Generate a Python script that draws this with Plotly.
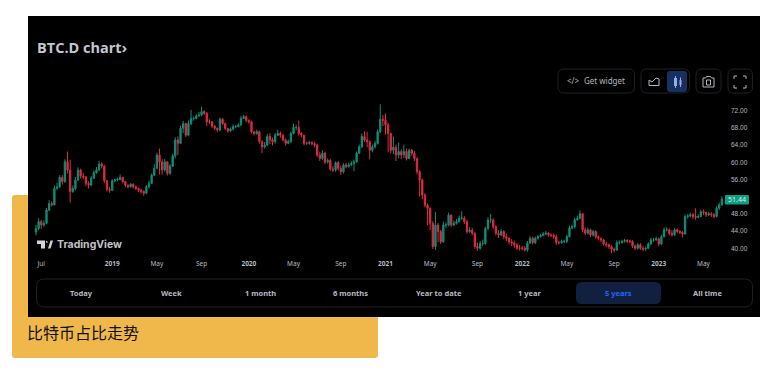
import pandas as pd
import plotly.graph_objects as go

W, H = 782, 374
title_text = "BTC.D chart›"
caption_text = "比特币占比走势"
tabs = ["Today", "Week", "1 month", "6 months", "Year to date", "1 year", "5 years", "All time"]
tick_dates = ["2018-07-02", "2019-01-07", "2019-05-06", "2019-09-02", "2020-01-06", "2020-05-04", "2020-09-07",
              "2021-01-04", "2021-05-03", "2021-09-06", "2022-01-03", "2022-05-02", "2022-09-05", "2023-01-02", "2023-05-01"]
tick_labels = ["Jul", "<b>2019</b>", "May", "Sep", "<b>2020</b>", "May", "Sep", "<b>2021</b>", "May", "Sep",
               "<b>2022</b>", "May", "Sep", "<b>2023</b>", "May"]
price_ticks = [40, 44, 48, 56, 60, 64, 68, 72]
last_price = 51.44

close = [44.6,46.2,45.4,45.8,48.9,50.4,50.1,53.9,54.3,56.5,
 55.5,60.1,58.2,53.2,53.9,55.9,58.2,56.8,56.6,55.1,
 54.7,56.3,57.6,58.2,59.6,59.1,55.7,53.7,53.5,55.7,
 55.9,56.0,56.5,55.5,54.7,54.3,54.9,54.3,53.9,53.5,
 53.2,52.8,54.3,55.1,57.0,58.6,61.7,60.1,58.2,60.1,
 57.4,59.1,61.5,65.2,64.4,67.9,69.0,66.3,69.0,70.2,
 70.2,70.8,71.0,71.8,71.4,69.4,69.4,68.4,67.9,67.5,
 70.0,69.0,67.9,67.3,67.7,68.3,68.3,68.7,70.2,70.6,
 69.7,69.4,67.1,66.7,67.1,64.8,63.6,64.0,66.0,65.2,
 64.8,66.3,66.7,66.3,65.2,64.4,64.8,66.7,68.1,68.1,
 66.7,66.3,64.4,64.4,64.6,64.4,64.0,61.7,60.9,62.1,
 60.1,60.4,58.4,58.2,59.9,58.6,57.8,59.4,59.0,59.4,
 59.7,60.1,62.1,63.6,66.0,65.2,64.8,62.8,63.6,64.4,
 67.1,70.0,69.8,68.7,66.7,62.8,63.5,61.7,62.5,61.7,
 62.5,60.9,62.8,62.1,60.9,57.8,55.9,52.4,50.0,49.3,
 45.8,40.4,45.4,43.9,41.5,45.4,45.4,47.7,45.4,45.8,
 46.2,47.0,47.0,46.2,43.9,44.2,43.5,40.4,40.0,41.1,
 41.1,44.6,46.6,46.6,45.0,43.5,43.1,43.9,42.7,42.3,
 41.5,41.2,40.8,40.0,40.0,40.0,39.6,41.2,42.3,41.3,
 42.3,42.7,43.0,43.3,43.5,43.1,43.0,42.7,41.3,41.3,
 41.6,41.6,42.7,44.7,45.0,46.6,47.0,48.0,44.3,43.5,
 44.3,43.1,43.9,42.7,42.3,41.9,41.0,40.8,40.4,39.8,
 39.6,41.3,41.3,41.6,41.8,41.6,41.6,40.5,40.0,40.8,
 40.0,39.8,40.0,41.0,41.9,41.9,42.2,41.0,42.7,44.3,
 44.3,43.5,43.1,44.3,43.9,43.7,43.3,47.4,47.5,47.8,
 47.4,47.2,47.4,48.5,48.3,47.8,48.0,47.8,47.4,49.3,
 50.1,51.44]

opens = [43.8,44.6,46.2,45.4,45.8,48.9,50.4,50.1,53.9,54.3,
 56.5,55.5,60.1,58.2,53.2,53.9,55.9,58.2,56.8,56.6,
 55.1,54.7,56.3,57.6,58.2,59.6,59.1,55.7,53.7,53.5,
 55.7,55.9,56.0,56.5,55.5,54.7,54.3,54.9,54.3,53.9,
 53.5,53.2,52.8,54.3,55.1,57.0,58.6,61.7,60.1,58.2,
 60.1,57.4,59.1,61.5,65.2,64.4,67.9,69.0,66.3,69.0,
 70.2,70.2,70.8,71.0,71.8,71.4,69.4,69.4,68.4,67.9,
 67.5,70.0,69.0,67.9,67.3,67.7,68.3,68.3,68.7,70.2,
 70.6,69.7,69.4,67.1,66.7,67.1,64.8,63.6,64.0,66.0,
 65.2,64.8,66.3,66.7,66.3,65.2,64.4,64.8,66.7,68.1,
 68.1,66.7,66.3,64.4,64.4,64.6,64.4,64.0,61.7,60.9,
 62.1,60.1,60.4,58.4,58.2,59.9,58.6,57.8,59.4,59.0,
 59.4,59.7,60.1,62.1,63.6,66.0,65.2,64.8,62.8,63.6,
 64.4,67.1,70.0,69.8,68.7,66.7,62.8,63.5,61.7,62.5,
 61.7,62.5,60.9,62.8,62.1,60.9,57.8,55.9,52.4,50.0,
 49.3,45.8,40.4,45.4,43.9,41.5,45.4,45.4,47.7,45.4,
 45.8,46.2,47.0,47.0,46.2,43.9,44.2,43.5,40.4,40.0,
 41.1,41.1,44.6,46.6,46.6,45.0,43.5,43.1,43.9,42.7,
 42.3,41.5,41.2,40.8,40.0,40.0,40.0,39.6,41.2,42.3,
 41.3,42.3,42.7,43.0,43.3,43.5,43.1,43.0,42.7,41.3,
 41.3,41.6,41.6,42.7,44.7,45.0,46.6,47.0,48.0,44.3,
 43.5,44.3,43.1,43.9,42.7,42.3,41.9,41.0,40.8,40.4,
 39.8,39.6,41.3,41.3,41.6,41.8,41.6,41.6,40.5,40.0,
 40.8,40.0,39.8,40.0,41.0,41.9,41.9,42.2,41.0,42.7,
 44.3,44.3,43.5,43.1,44.3,43.9,43.7,43.3,47.4,47.5,
 47.8,47.4,47.2,47.4,48.5,48.3,47.8,48.0,47.8,47.4,
 49.3,50.1]

high = [45.4,47.0,46.6,46.5,49.4,51.2,51.0,54.6,55.2,57.0,
 57.0,60.7,62.5,60.6,54.6,56.6,58.8,58.5,57.5,56.8,
 55.6,56.8,58.1,58.9,60.3,60.0,59.4,55.9,54.3,56.1,
 56.2,56.4,57.2,56.6,55.7,54.8,55.2,55.1,54.6,54.1,
 53.9,53.5,54.7,55.7,57.4,59.5,62.2,63.2,60.7,60.8,
 60.2,59.6,62.0,65.8,66.0,68.5,69.6,69.2,69.7,72.2,
 70.6,71.2,71.7,72.9,72.1,71.7,70.0,69.6,68.6,68.1,
 70.4,70.3,69.2,67.9,68.1,68.8,68.7,69.1,70.8,71.0,
 70.9,70.0,69.7,67.3,67.6,67.4,65.1,64.7,66.6,66.8,
 65.7,66.8,67.6,67.2,66.5,65.5,65.3,67.1,69.0,68.7,
 69.7,67.0,65.5,64.8,65.0,64.9,64.7,64.3,62.4,62.8,
 62.5,60.9,60.8,59.1,60.2,60.3,59.2,59.8,59.9,59.9,
 60.2,60.6,62.5,64.1,66.7,67.2,67.1,65.1,64.1,65.0,
 67.6,73.5,71.0,71.4,69.2,66.9,66.0,64.1,64.6,63.0,
 64.1,63.2,63.2,63.1,62.6,61.1,58.2,56.2,52.8,50.4,
 49.5,46.3,48.5,45.9,44.3,46.2,46.0,48.3,47.9,46.4,
 46.8,47.6,48.6,47.5,46.6,44.9,44.8,43.7,41.3,41.7,
 42.0,45.0,47.2,48.0,47.0,45.4,44.2,44.5,44.2,43.4,
 42.6,42.1,41.8,41.2,40.7,40.6,40.5,41.7,42.8,42.7,
 42.7,43.1,43.4,43.8,44.0,43.8,43.5,43.4,43.2,41.8,
 42.0,42.0,43.1,45.2,45.5,47.1,47.6,48.8,48.2,44.8,
 44.8,44.6,44.3,44.2,43.0,42.5,42.2,41.5,41.1,40.7,
 40.2,41.8,41.8,42.0,42.2,42.1,42.0,41.9,40.9,41.2,
 41.2,40.5,40.4,41.4,42.4,42.4,42.7,42.5,43.1,44.8,
 44.9,44.6,44.2,44.7,44.6,44.2,44.0,47.8,48.0,48.3,
 48.2,49.3,47.9,49.0,49.0,48.5,48.5,48.4,48.2,49.8,
 50.6,52.1]

low = [43.0,44.2,44.5,45.0,45.6,48.6,49.7,49.9,53.6,54.0,
 54.8,55.2,57.4,50.6,52.9,53.5,55.6,56.2,56.1,54.4,
 53.9,54.4,56.1,57.3,58.0,58.6,55.1,53.2,52.9,53.3,
 55.4,55.6,55.8,55.1,54.2,53.9,54.1,53.9,53.5,53.1,
 52.7,52.2,52.6,53.9,55.0,56.8,58.4,57.2,57.1,57.8,
 56.9,57.1,58.9,60.9,61.7,64.2,66.8,65.9,66.1,68.6,
 69.7,70.0,70.6,70.7,71.0,68.4,68.9,68.0,67.5,67.0,
 67.2,68.7,67.5,66.9,67.1,67.5,67.9,68.1,68.4,70.1,
 69.3,69.0,66.7,66.2,66.4,64.3,62.1,63.2,63.8,64.2,
 63.9,64.4,66.1,65.7,64.8,63.9,64.2,64.4,66.5,67.5,
 66.2,65.8,63.9,64.0,64.1,63.9,63.5,61.2,60.3,60.5,
 59.6,59.7,58.0,57.7,57.8,58.1,57.1,57.4,58.6,58.8,
 59.1,57.9,59.9,62.0,63.3,64.7,63.5,60.7,62.3,63.2,
 64.1,66.8,68.4,66.4,62.3,62.1,61.9,60.3,60.9,60.7,
 61.0,60.4,60.7,61.5,60.3,57.2,52.0,51.4,49.5,45.4,
 44.2,39.8,39.6,41.4,41.0,41.3,44.7,45.1,44.9,45.2,
 45.5,46.0,46.6,45.7,43.4,43.6,43.0,39.9,39.4,39.7,
 40.6,40.8,44.2,45.9,44.5,43.0,42.4,42.9,42.1,41.7,
 40.9,40.5,40.1,39.6,39.5,39.5,39.2,39.2,41.0,40.9,
 41.0,42.0,42.5,42.8,43.0,42.7,42.6,42.2,40.8,40.9,
 41.0,41.2,41.2,42.5,44.4,44.6,46.4,46.7,43.7,43.0,
 43.2,42.6,42.7,42.2,41.8,41.4,40.6,40.3,39.9,38.9,
 39.0,39.4,40.9,41.1,41.3,41.2,41.2,40.1,39.6,39.7,
 39.6,39.3,39.4,39.8,40.8,41.5,41.8,40.5,40.8,42.5,
 43.9,43.0,42.7,42.9,43.5,43.3,42.5,43.2,46.9,47.2,
 46.8,46.6,47.0,47.2,47.7,47.3,47.5,47.3,47.0,47.2,
 48.9,49.9]

dates = pd.date_range("2018-06-18", periods=len(close), freq="7D")

def X(p): return p / W
def Y(p): return 1 - p / H

def rrect(x0, y0, x1, y1, r):
    return (f"M {X(x0+r)} {Y(y0)} L {X(x1-r)} {Y(y0)} Q {X(x1)} {Y(y0)} {X(x1)} {Y(y0+r)} "
            f"L {X(x1)} {Y(y1-r)} Q {X(x1)} {Y(y1)} {X(x1-r)} {Y(y1)} "
            f"L {X(x0+r)} {Y(y1)} Q {X(x0)} {Y(y1)} {X(x0)} {Y(y1-r)} "
            f"L {X(x0)} {Y(y0+r)} Q {X(x0)} {Y(y0)} {X(x0+r)} {Y(y0)} Z")

def poly(points, closed=False):
    s = "M " + " L ".join(f"{X(a)} {Y(b)}" for a, b in points)
    return s + (" Z" if closed else "")

shapes = []
def add(path, fill="rgba(0,0,0,0)", line=None, lw=1, layer="below"):
    shapes.append(dict(type="path", xref="paper", yref="paper", path=path, fillcolor=fill,
                       line=dict(color=line or "rgba(0,0,0,0)", width=lw if line else 0), layer=layer))

BORDER = "#1e2024"
add(rrect(12, 195, 378, 358, 3), fill="#f0b84b")
add(poly([(28, 16), (760, 16), (760, 317), (28, 317)], True), fill="#000000")
# top-right controls
add(rrect(558, 69, 634.5, 93, 6), line=BORDER)
add(rrect(641, 69, 689.5, 93, 6), line=BORDER)
add(rrect(667, 71, 687, 92, 3), fill="#17305f")
add(rrect(696, 69, 721, 93, 6), line=BORDER)
add(rrect(728, 69, 752.5, 93, 6), line=BORDER)
# area icon
add(poly([(649, 80), (652, 82), (656, 78), (659, 79), (659, 85.5), (649, 85.5)], True), line="#b2b5be", lw=1)
# candles icon
add(poly([(674, 78), (677, 78), (677, 86), (674, 86)], True), fill="#8fb0ea")
add(poly([(675.5, 76), (675.5, 88)]), line="#8fb0ea")
add(poly([(679.5, 80), (681.5, 80), (681.5, 85), (679.5, 85)], True), fill="#8fb0ea")
add(poly([(680.5, 77.5), (680.5, 87)]), line="#8fb0ea")
# camera icon
add(poly([(703, 78), (705.5, 78), (706.5, 76.5), (710.5, 76.5), (711.5, 78), (714, 78), (714, 87), (703, 87)], True),
    line="#b2b5be")
add(poly([(706.5, 80), (710.5, 80), (710.5, 85), (706.5, 85)], True), line="#b2b5be")
# fullscreen icon
for pts in ([(734, 79), (734, 76), (737, 76)], [(743, 76), (746, 76), (746, 79)],
            [(746, 85), (746, 88), (743, 88)], [(737, 88), (734, 88), (734, 85)]):
    add(poly(pts), line="#b2b5be")
# bottom tab bar
add(rrect(36.5, 279, 752.5, 307, 8), line=BORDER)
add(rrect(576, 282, 661, 304, 6), fill="#12203f")
# TradingView logo
add(poly([(37, 240.5), (45, 240.5), (45, 248.5), (41, 248.5), (41, 244), (37, 244)], True), fill="#d1d4dc")
add(poly([(46, 240.5), (48.5, 242.5), (46, 242.5)], True), fill="#d1d4dc")
add(poly([(48, 248.5), (50.5, 240.5), (53, 240.5), (50.5, 248.5)], True), fill="#d1d4dc")
# last price tag
add(rrect(725, 195, 749, 204.5, 1), fill="#0f9d84", layer="above")

def note(text, x, y, size, color, anchor="center", family="Noto Sans", yref="paper"):
    return dict(text=text, x=X(x), y=Y(y) if yref == "paper" else y, xref="paper", yref=yref, showarrow=False,
                xanchor=anchor, yanchor="middle", font=dict(size=size, color=color, family=family))

annotations = [
    note(f"<b>{title_text}</b>", 35, 47, 14.5, "#c4c7cf", "left", "Open Sans"),
    note(caption_text, 25, 332, 16, "#111111", "left", "Noto Sans CJK SC"),
    note("<b>TradingView</b>", 54.5, 244.5, 10.5, "#c0c2c8", "left", "Inter"),
    note("</>", 573, 81, 8, "#b2b5be"),
    note("Get widget", 604, 81, 8, "#b2b5be"),
    note(f"{last_price:.2f}", 737, 199.7, 7, "#d8f2ec"),
]
tab_x = [81, 171, 260, 350, 439, 529, 618, 707]
for name, tx in zip(tabs, tab_x):
    active = name == "5 years"
    annotations.append(note(f"<b>{name}</b>", tx, 293, 7.5, "#2962ff" if active else "#b8bbc2"))

fig = go.Figure(go.Candlestick(
    x=dates, open=opens, high=high, low=low, close=close,
    increasing=dict(line=dict(color="#0c8f79", width=1), fillcolor="#0c8f79"),
    decreasing=dict(line=dict(color="#d92c42", width=1), fillcolor="#d92c42"),
    whiskerwidth=0, hoverinfo="skip", showlegend=False,
))

fig.update_layout(
    width=W, height=H, margin=dict(l=0, r=0, t=0, b=0), autosize=False,
    paper_bgcolor="#ffffff", plot_bgcolor="rgba(0,0,0,0)",
    font=dict(family="Noto Sans", size=7, color="#b8bbc2"),
    shapes=shapes, annotations=annotations, showlegend=False,
    xaxis=dict(domain=[X(30), X(726)], range=["2018-06-02", "2023-06-30"], rangeslider=dict(visible=False),
               type="date", tickmode="array", tickvals=tick_dates, ticktext=tick_labels, ticks="",
               showgrid=False, zeroline=False, showline=False, tickfont=dict(size=6.5, color="#b8bbc2"),
               anchor="y", fixedrange=True, ticklabelstandoff=2, tickangle=0),
    yaxis=dict(domain=[Y(256), Y(95)], range=[38.2, 75.65], side="right", tickmode="array",
               tickvals=price_ticks, tickformat=".2f", ticks="",
               showgrid=False, zeroline=False, showline=False,
               tickfont=dict(size=6.5, color="#b8bbc2", family="Liberation Sans"),
               anchor="x", fixedrange=True, ticklabelstandoff=4),
)

fig.write_html("out.html", config=dict(displayModeBar=False),
               post_script="document.body.style.margin='0';document.body.style.overflow='hidden';")
